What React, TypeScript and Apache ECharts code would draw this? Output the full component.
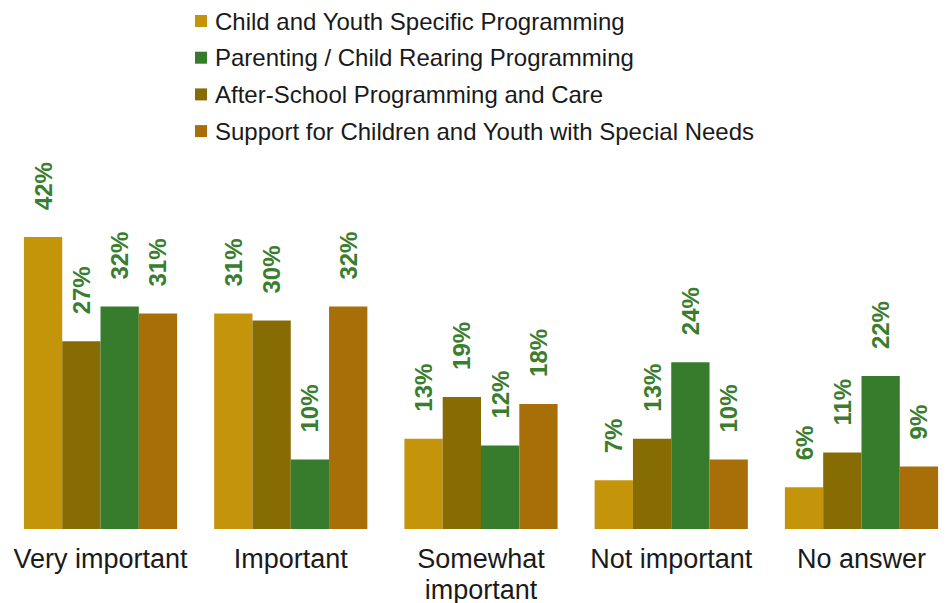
import React, { useEffect, useRef } from "react";
import * as echarts from "echarts";

const categories = ["Very important", "Important", "Somewhat\nimportant", "Not important", "No answer"];
const childYouth = [42, 31, 13, 7, 6];
const afterSchool = [27, 30, 19, 13, 11];
const parenting = [32, 10, 12, 24, 22];
const specialNeeds = [31, 32, 18, 10, 9];

const names = {
  childYouth: "Child and Youth Specific Programming",
  parenting: "Parenting / Child Rearing Programming",
  afterSchool: "After-School Programming and Care",
  specialNeeds: "Support for Children and Youth with Special Needs",
};

const FONT = "Arial";

export default function App() {
  const ref = useRef<HTMLDivElement>(null);
  useEffect(() => {
    if (!ref.current) return;
    const chart = echarts.init(ref.current, undefined, { renderer: "svg" });
    const label = {
      show: true,
      position: "top",
      distance: 27,
      rotate: 90,
      align: "left",
      verticalAlign: "middle",
      formatter: "{c}%",
      color: "#3a7d2e",
      fontWeight: "bold",
      fontSize: 24,
      fontFamily: FONT,
    };
    const mk = (name: string, data: number[], color: string) => ({
      name,
      type: "bar",
      data,
      barWidth: 38.3,
      barGap: "0%",
      itemStyle: { color },
      label,
    });
    chart.setOption({
      animation: false,
      textStyle: { fontFamily: FONT },
      legend: {
        orient: "vertical",
        left: 190,
        top: 3,
        icon: "rect",
        itemWidth: 12,
        itemHeight: 12,
        itemGap: 10.7,
        data: [names.childYouth, names.parenting, names.afterSchool, names.specialNeeds],
        textStyle: { fontFamily: FONT, fontSize: 24, lineHeight: 26, color: "#1a1a1a", padding: [0, 0, 0, 3] },
      },
      grid: { left: 5.4, right: 3.4, top: 181.5, bottom: 74, outerBoundsMode: "none", containLabel: false },
      xAxis: {
        type: "category",
        data: categories,
        axisLine: { show: false },
        axisTick: { show: false },
        axisLabel: { fontFamily: FONT, fontSize: 27, lineHeight: 31, color: "#1a1a1a", margin: 14, interval: 0 },
      },
      yAxis: { type: "value", min: 0, max: 50, show: false, splitLine: { show: false } },
      series: [
        mk(names.childYouth, childYouth, "#c4950a"),
        mk(names.afterSchool, afterSchool, "#866c02"),
        mk(names.parenting, parenting, "#377b2d"),
        mk(names.specialNeeds, specialNeeds, "#a86f08"),
      ],
    });
    return () => chart.dispose();
  }, []);
  return (
    <div
      ref={ref}
      style={{ position: "fixed", left: 0, top: 0, width: 960, height: 603, background: "#fff" }}
    />
  );
}
